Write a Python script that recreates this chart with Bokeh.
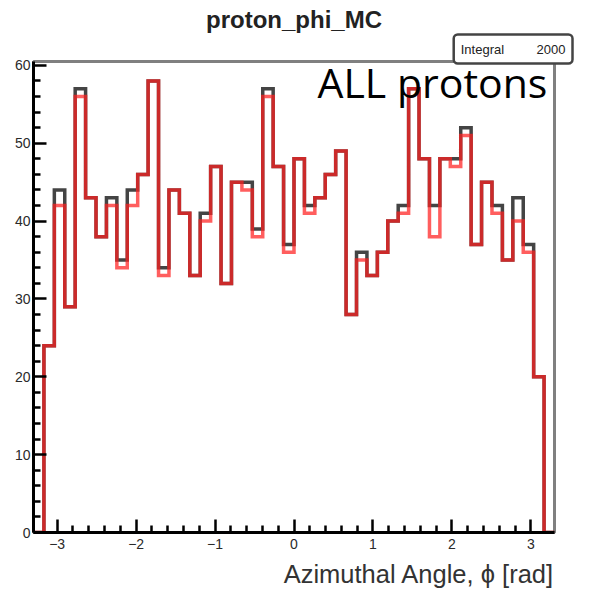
import numpy as np
from bokeh.plotting import figure
from bokeh.models import Range1d, FixedTicker, Label, Title
from bokeh.embed import file_html
from bokeh.resources import INLINE

# ---- data ----
x_low, x_high, n_bins = -3.3, 3.3, 50
counts_all = [0, 24, 44, 29, 57, 43, 38, 43, 35, 44, 46, 58, 34, 44, 41, 33, 41, 47, 32, 45,
              45, 39, 57, 47, 37, 48, 42, 43, 46, 49, 28, 36, 33, 36, 40, 42, 57, 48, 42, 48,
              48, 52, 37, 45, 42, 35, 43, 37, 20, 0]
counts_sel = [0, 24, 42, 29, 56, 43, 38, 42, 34, 42, 46, 58, 33, 44, 41, 33, 40, 47, 32, 45,
              44, 38, 56, 47, 36, 48, 41, 43, 46, 49, 28, 35, 33, 36, 40, 41, 57, 48, 38, 48,
              47, 51, 37, 45, 41, 35, 40, 36, 20, 0]
x_major = [-3, -2, -1, 0, 1, 2, 3]
x_labels = ["\u22123", "\u22122", "\u22121", "0", "1", "2", "3"]
y_major = [0, 10, 20, 30, 40, 50, 60]
title_text = "proton_phi_MC"
xlabel_text = "Azimuthal Angle, \u03d5 [rad]"
stat_name, stat_value = "Integral", "2000"
note_text = "ALL protons"

edges = np.linspace(x_low, x_high, n_bins + 1)


def step_path(edges, counts):
    xs, ys = [edges[0]], [0]
    for i, c in enumerate(counts):
        xs += [edges[i], edges[i + 1]]
        ys += [c, c]
    xs.append(edges[-1])
    ys.append(0)
    return xs, ys


p = figure(frame_width=521, frame_height=471, output_backend="svg", toolbar_location=None,
           x_range=Range1d(x_low, x_high), y_range=Range1d(0, 60.5),
           min_border_left=33, min_border_right=35, min_border_top=61, min_border_bottom=59)
p.background_fill_color = "white"
p.border_fill_color = "white"
p.xgrid.visible = False
p.ygrid.visible = False
p.outline_line_color = "#808080"
p.outline_line_width = 3

xa, ya = step_path(edges, counts_all)
xs_, ys_ = step_path(edges, counts_sel)
p.line(xa, ya, line_color="#303030", line_width=3.5, line_alpha=0.9, line_join="miter")
p.line(xs_, ys_, line_color="#ff2020", line_width=3.5, line_alpha=0.72, line_join="miter")

minor_x = [round(v, 1) for v in np.arange(-2.8, 2.81, 0.2) if abs(v - round(v)) > 1e-6]
p.xaxis.ticker = FixedTicker(ticks=x_major, minor_ticks=minor_x)
p.xaxis.major_label_overrides = {t: l for t, l in zip(x_major, x_labels)}
p.yaxis.ticker = FixedTicker(ticks=y_major, minor_ticks=[v for v in range(2, 60, 2) if v % 10])

for ax in (p.xaxis[0], p.yaxis[0]):
    ax.axis_line_color = "black"
    ax.axis_line_width = 3
    ax.major_tick_in = 13
    ax.major_tick_out = 0
    ax.minor_tick_in = 7
    ax.minor_tick_out = 0
    ax.major_tick_line_color = "black"
    ax.minor_tick_line_color = "black"
    ax.major_tick_line_width = 2.5
    ax.minor_tick_line_width = 2.5
    ax.major_label_text_font = "Liberation Sans"
    ax.major_label_text_font_size = "14px"
    ax.major_label_text_color = "#2a2a2a"
p.xaxis.major_label_standoff = 6
p.yaxis.major_label_standoff = 3

# stats box (closest to the frame in the top panel)
nb = "\u00a0" * 9
p.add_layout(Title(text=stat_name + nb + stat_value, align="right", offset=-18, standoff=-4,
                   text_font="Liberation Sans", text_font_size="13px", text_font_style="normal",
                   text_color="#222222", padding=7, border_radius=4,
                   border_line_color="#444444", border_line_width=2.5,
                   background_fill_color="white"), "above")
# main title
p.add_layout(Title(text=title_text, align="center", standoff=4,
                   text_font="Liberation Sans", text_font_style="bold",
                   text_font_size="24px", text_color="#222222"), "above")
# x axis label
p.add_layout(Title(text=xlabel_text, align="right", standoff=13,
                   text_font="Liberation Sans", text_font_style="normal",
                   text_font_size="25.5px", text_color="#333333"), "below")
# note
p.add_layout(Label(x=284, y=451, x_units="screen", y_units="screen", text=note_text,
                   text_align="left", text_baseline="alphabetic", text_font="Open Sans",
                   text_font_size="41px", text_color="black"))

open("out.html", "w").write(file_html(p, INLINE))
